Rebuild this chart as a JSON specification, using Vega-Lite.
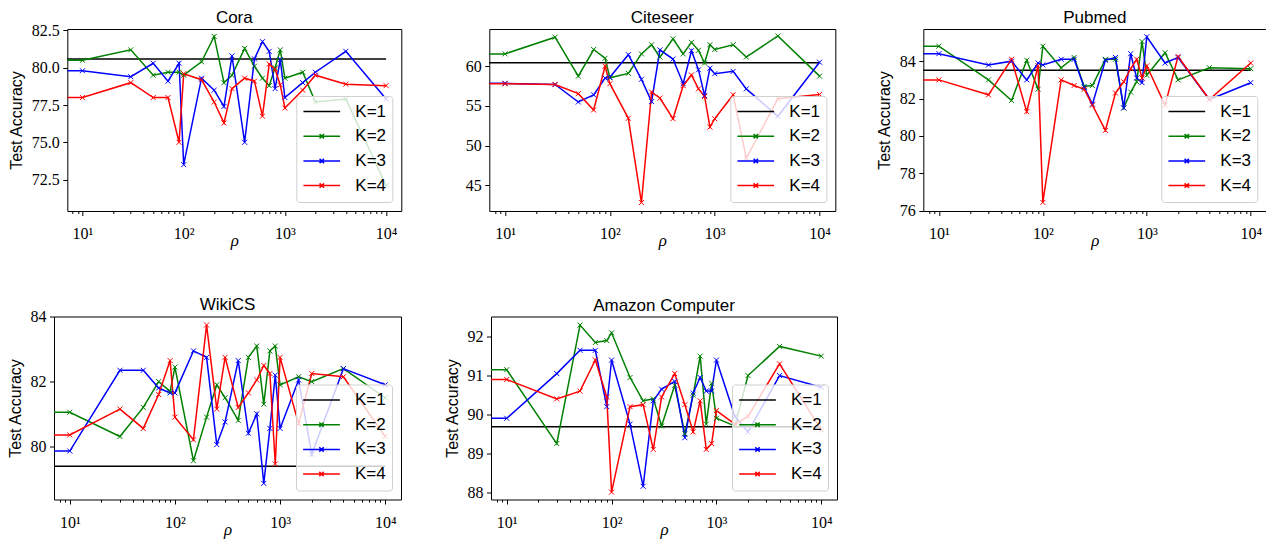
{
 "$schema": "https://vega.github.io/schema/vega-lite/v6.json",
 "background": "white",
 "padding": {"left": 7, "top": 8, "right": 2, "bottom": 2},
 "datasets": {
  "cora": [
   {"r":1,"a":80.58,"K":"K=1"},{"r":10000,"a":80.58,"K":"K=1"},
   {"r":1,"a":80.5,"K":"K=2"},{"r":10,"a":80.5,"K":"K=2"},{"r":30,"a":81.2,"K":"K=2"},{"r":50,"a":79.5,"K":"K=2"},{"r":70,"a":79.7,"K":"K=2"},{"r":90,"a":79.7,"K":"K=2"},{"r":100,"a":79.5,"K":"K=2"},{"r":150,"a":80.4,"K":"K=2"},{"r":200,"a":82.1,"K":"K=2"},{"r":250,"a":79.0,"K":"K=2"},{"r":300,"a":79.5,"K":"K=2"},{"r":400,"a":81.3,"K":"K=2"},{"r":500,"a":80.1,"K":"K=2"},{"r":600,"a":79.3,"K":"K=2"},{"r":700,"a":78.8,"K":"K=2"},{"r":800,"a":80.0,"K":"K=2"},{"r":900,"a":81.2,"K":"K=2"},{"r":1000,"a":79.3,"K":"K=2"},{"r":1500,"a":79.7,"K":"K=2"},{"r":2000,"a":77.7,"K":"K=2"},{"r":4000,"a":77.9,"K":"K=2"},{"r":10000,"a":72.1,"K":"K=2"},
   {"r":1,"a":79.8,"K":"K=3"},{"r":10,"a":79.8,"K":"K=3"},{"r":30,"a":79.4,"K":"K=3"},{"r":50,"a":80.3,"K":"K=3"},{"r":70,"a":79.1,"K":"K=3"},{"r":90,"a":80.3,"K":"K=3"},{"r":100,"a":73.5,"K":"K=3"},{"r":150,"a":79.3,"K":"K=3"},{"r":200,"a":78.5,"K":"K=3"},{"r":250,"a":77.4,"K":"K=3"},{"r":300,"a":80.8,"K":"K=3"},{"r":400,"a":75.0,"K":"K=3"},{"r":500,"a":80.6,"K":"K=3"},{"r":600,"a":81.75,"K":"K=3"},{"r":700,"a":81.1,"K":"K=3"},{"r":800,"a":78.6,"K":"K=3"},{"r":900,"a":80.55,"K":"K=3"},{"r":1000,"a":78.0,"K":"K=3"},{"r":1500,"a":79.0,"K":"K=3"},{"r":2000,"a":79.7,"K":"K=3"},{"r":4000,"a":81.1,"K":"K=3"},{"r":10000,"a":77.9,"K":"K=3"},
   {"r":1,"a":78.0,"K":"K=4"},{"r":10,"a":78.0,"K":"K=4"},{"r":30,"a":79.0,"K":"K=4"},{"r":50,"a":78.0,"K":"K=4"},{"r":70,"a":78.0,"K":"K=4"},{"r":90,"a":75.0,"K":"K=4"},{"r":100,"a":79.6,"K":"K=4"},{"r":150,"a":79.2,"K":"K=4"},{"r":200,"a":77.7,"K":"K=4"},{"r":250,"a":76.3,"K":"K=4"},{"r":300,"a":78.6,"K":"K=4"},{"r":400,"a":79.3,"K":"K=4"},{"r":500,"a":79.1,"K":"K=4"},{"r":600,"a":76.75,"K":"K=4"},{"r":700,"a":80.25,"K":"K=4"},{"r":800,"a":79.9,"K":"K=4"},{"r":900,"a":78.85,"K":"K=4"},{"r":1000,"a":77.3,"K":"K=4"},{"r":1500,"a":78.5,"K":"K=4"},{"r":2000,"a":79.5,"K":"K=4"},{"r":4000,"a":78.9,"K":"K=4"},{"r":10000,"a":78.8,"K":"K=4"}
  ],
  "citeseer": [
   {"r":1,"a":60.42,"K":"K=1"},{"r":10000,"a":60.42,"K":"K=1"},
   {"r":1,"a":61.55,"K":"K=2"},{"r":10,"a":61.55,"K":"K=2"},{"r":30,"a":63.65,"K":"K=2"},{"r":50,"a":58.75,"K":"K=2"},{"r":70,"a":62.1,"K":"K=2"},{"r":90,"a":61.0,"K":"K=2"},{"r":100,"a":58.55,"K":"K=2"},{"r":150,"a":59.1,"K":"K=2"},{"r":200,"a":61.55,"K":"K=2"},{"r":250,"a":62.7,"K":"K=2"},{"r":300,"a":61.15,"K":"K=2"},{"r":400,"a":63.45,"K":"K=2"},{"r":500,"a":61.55,"K":"K=2"},{"r":600,"a":63.0,"K":"K=2"},{"r":700,"a":62.0,"K":"K=2"},{"r":800,"a":60.4,"K":"K=2"},{"r":900,"a":62.7,"K":"K=2"},{"r":1000,"a":62.1,"K":"K=2"},{"r":1500,"a":62.7,"K":"K=2"},{"r":2000,"a":61.15,"K":"K=2"},{"r":4000,"a":63.8,"K":"K=2"},{"r":10000,"a":58.75,"K":"K=2"},
   {"r":1,"a":57.85,"K":"K=3"},{"r":10,"a":57.85,"K":"K=3"},{"r":30,"a":57.7,"K":"K=3"},{"r":50,"a":55.5,"K":"K=3"},{"r":70,"a":56.4,"K":"K=3"},{"r":90,"a":58.5,"K":"K=3"},{"r":100,"a":58.6,"K":"K=3"},{"r":150,"a":61.45,"K":"K=3"},{"r":200,"a":58.35,"K":"K=3"},{"r":250,"a":55.55,"K":"K=3"},{"r":300,"a":62.05,"K":"K=3"},{"r":400,"a":60.9,"K":"K=3"},{"r":500,"a":57.8,"K":"K=3"},{"r":600,"a":61.95,"K":"K=3"},{"r":700,"a":59.55,"K":"K=3"},{"r":800,"a":56.3,"K":"K=3"},{"r":900,"a":59.75,"K":"K=3"},{"r":1000,"a":59.05,"K":"K=3"},{"r":1500,"a":59.35,"K":"K=3"},{"r":2000,"a":57.15,"K":"K=3"},{"r":4000,"a":53.7,"K":"K=3"},{"r":10000,"a":60.5,"K":"K=3"},
   {"r":1,"a":57.8,"K":"K=4"},{"r":10,"a":57.8,"K":"K=4"},{"r":30,"a":57.7,"K":"K=4"},{"r":50,"a":56.55,"K":"K=4"},{"r":70,"a":54.5,"K":"K=4"},{"r":90,"a":60.0,"K":"K=4"},{"r":100,"a":57.8,"K":"K=4"},{"r":150,"a":53.45,"K":"K=4"},{"r":200,"a":42.85,"K":"K=4"},{"r":250,"a":56.75,"K":"K=4"},{"r":300,"a":56.0,"K":"K=4"},{"r":400,"a":53.4,"K":"K=4"},{"r":500,"a":57.55,"K":"K=4"},{"r":600,"a":58.9,"K":"K=4"},{"r":700,"a":57.15,"K":"K=4"},{"r":800,"a":56.2,"K":"K=4"},{"r":900,"a":52.35,"K":"K=4"},{"r":1000,"a":53.4,"K":"K=4"},{"r":1500,"a":56.4,"K":"K=4"},{"r":2000,"a":48.45,"K":"K=4"},{"r":4000,"a":55.9,"K":"K=4"},{"r":10000,"a":56.45,"K":"K=4"}
  ],
  "pubmed": [
   {"r":1,"a":83.52,"K":"K=1"},{"r":10000,"a":83.52,"K":"K=1"},
   {"r":1,"a":84.8,"K":"K=2"},{"r":10,"a":84.8,"K":"K=2"},{"r":30,"a":83.0,"K":"K=2"},{"r":50,"a":81.9,"K":"K=2"},{"r":70,"a":84.05,"K":"K=2"},{"r":90,"a":82.5,"K":"K=2"},{"r":100,"a":84.8,"K":"K=2"},{"r":150,"a":83.65,"K":"K=2"},{"r":200,"a":84.2,"K":"K=2"},{"r":250,"a":82.65,"K":"K=2"},{"r":300,"a":82.7,"K":"K=2"},{"r":400,"a":84.1,"K":"K=2"},{"r":500,"a":84.1,"K":"K=2"},{"r":600,"a":81.5,"K":"K=2"},{"r":700,"a":82.35,"K":"K=2"},{"r":800,"a":82.9,"K":"K=2"},{"r":900,"a":85.05,"K":"K=2"},{"r":1000,"a":83.25,"K":"K=2"},{"r":1500,"a":84.45,"K":"K=2"},{"r":2000,"a":83.0,"K":"K=2"},{"r":4000,"a":83.65,"K":"K=2"},{"r":10000,"a":83.6,"K":"K=2"},
   {"r":1,"a":84.4,"K":"K=3"},{"r":10,"a":84.4,"K":"K=3"},{"r":30,"a":83.8,"K":"K=3"},{"r":50,"a":84.0,"K":"K=3"},{"r":70,"a":83.0,"K":"K=3"},{"r":90,"a":83.9,"K":"K=3"},{"r":100,"a":83.8,"K":"K=3"},{"r":150,"a":84.1,"K":"K=3"},{"r":200,"a":84.1,"K":"K=3"},{"r":250,"a":82.6,"K":"K=3"},{"r":300,"a":81.7,"K":"K=3"},{"r":400,"a":84.05,"K":"K=3"},{"r":500,"a":84.2,"K":"K=3"},{"r":600,"a":81.5,"K":"K=3"},{"r":700,"a":84.4,"K":"K=3"},{"r":800,"a":83.1,"K":"K=3"},{"r":900,"a":82.85,"K":"K=3"},{"r":1000,"a":85.3,"K":"K=3"},{"r":1500,"a":83.9,"K":"K=3"},{"r":2000,"a":84.2,"K":"K=3"},{"r":4000,"a":81.95,"K":"K=3"},{"r":10000,"a":82.85,"K":"K=3"},
   {"r":1,"a":83.0,"K":"K=4"},{"r":10,"a":83.0,"K":"K=4"},{"r":30,"a":82.2,"K":"K=4"},{"r":50,"a":84.1,"K":"K=4"},{"r":70,"a":81.3,"K":"K=4"},{"r":90,"a":83.75,"K":"K=4"},{"r":100,"a":76.45,"K":"K=4"},{"r":150,"a":83.0,"K":"K=4"},{"r":200,"a":82.7,"K":"K=4"},{"r":250,"a":82.5,"K":"K=4"},{"r":300,"a":81.65,"K":"K=4"},{"r":400,"a":80.3,"K":"K=4"},{"r":500,"a":82.3,"K":"K=4"},{"r":600,"a":82.9,"K":"K=4"},{"r":700,"a":83.6,"K":"K=4"},{"r":800,"a":84.1,"K":"K=4"},{"r":900,"a":83.1,"K":"K=4"},{"r":1000,"a":83.75,"K":"K=4"},{"r":1500,"a":81.65,"K":"K=4"},{"r":2000,"a":84.25,"K":"K=4"},{"r":4000,"a":81.95,"K":"K=4"},{"r":10000,"a":83.9,"K":"K=4"}
  ],
  "wikics": [
   {"r":1,"a":79.38,"K":"K=1"},{"r":10000,"a":79.38,"K":"K=1"},
   {"r":1,"a":81.05,"K":"K=2"},{"r":10,"a":81.05,"K":"K=2"},{"r":30,"a":80.3,"K":"K=2"},{"r":50,"a":81.2,"K":"K=2"},{"r":70,"a":82.0,"K":"K=2"},{"r":90,"a":81.7,"K":"K=2"},{"r":100,"a":82.45,"K":"K=2"},{"r":150,"a":79.55,"K":"K=2"},{"r":200,"a":80.9,"K":"K=2"},{"r":250,"a":81.9,"K":"K=2"},{"r":300,"a":81.5,"K":"K=2"},{"r":400,"a":80.8,"K":"K=2"},{"r":500,"a":82.75,"K":"K=2"},{"r":600,"a":83.1,"K":"K=2"},{"r":700,"a":81.3,"K":"K=2"},{"r":800,"a":82.95,"K":"K=2"},{"r":900,"a":83.1,"K":"K=2"},{"r":1000,"a":81.9,"K":"K=2"},{"r":1500,"a":82.15,"K":"K=2"},{"r":2000,"a":82.0,"K":"K=2"},{"r":4000,"a":82.4,"K":"K=2"},{"r":10000,"a":81.5,"K":"K=2"},
   {"r":1,"a":79.85,"K":"K=3"},{"r":10,"a":79.85,"K":"K=3"},{"r":30,"a":82.35,"K":"K=3"},{"r":50,"a":82.35,"K":"K=3"},{"r":70,"a":81.8,"K":"K=3"},{"r":90,"a":81.65,"K":"K=3"},{"r":100,"a":81.65,"K":"K=3"},{"r":150,"a":82.95,"K":"K=3"},{"r":200,"a":82.75,"K":"K=3"},{"r":250,"a":80.05,"K":"K=3"},{"r":300,"a":80.75,"K":"K=3"},{"r":400,"a":82.65,"K":"K=3"},{"r":500,"a":80.4,"K":"K=3"},{"r":600,"a":81.0,"K":"K=3"},{"r":700,"a":78.85,"K":"K=3"},{"r":800,"a":80.55,"K":"K=3"},{"r":900,"a":82.2,"K":"K=3"},{"r":1000,"a":80.55,"K":"K=3"},{"r":1500,"a":82.05,"K":"K=3"},{"r":2000,"a":79.75,"K":"K=3"},{"r":4000,"a":82.4,"K":"K=3"},{"r":10000,"a":81.9,"K":"K=3"},
   {"r":1,"a":80.35,"K":"K=4"},{"r":10,"a":80.35,"K":"K=4"},{"r":30,"a":81.15,"K":"K=4"},{"r":50,"a":80.55,"K":"K=4"},{"r":70,"a":81.6,"K":"K=4"},{"r":90,"a":82.65,"K":"K=4"},{"r":100,"a":80.9,"K":"K=4"},{"r":150,"a":80.2,"K":"K=4"},{"r":200,"a":83.75,"K":"K=4"},{"r":250,"a":81.15,"K":"K=4"},{"r":300,"a":82.75,"K":"K=4"},{"r":400,"a":81.2,"K":"K=4"},{"r":500,"a":81.65,"K":"K=4"},{"r":600,"a":82.05,"K":"K=4"},{"r":700,"a":82.5,"K":"K=4"},{"r":800,"a":82.25,"K":"K=4"},{"r":900,"a":79.45,"K":"K=4"},{"r":1000,"a":82.75,"K":"K=4"},{"r":1500,"a":80.7,"K":"K=4"},{"r":2000,"a":82.25,"K":"K=4"},{"r":4000,"a":82.15,"K":"K=4"},{"r":10000,"a":80.3,"K":"K=4"}
  ],
  "amazon": [
   {"r":1,"a":89.68,"K":"K=1"},{"r":10000,"a":89.68,"K":"K=1"},
   {"r":1,"a":91.15,"K":"K=2"},{"r":10,"a":91.15,"K":"K=2"},{"r":30,"a":89.25,"K":"K=2"},{"r":50,"a":92.3,"K":"K=2"},{"r":70,"a":91.85,"K":"K=2"},{"r":90,"a":91.9,"K":"K=2"},{"r":100,"a":92.1,"K":"K=2"},{"r":150,"a":90.95,"K":"K=2"},{"r":200,"a":90.35,"K":"K=2"},{"r":250,"a":90.4,"K":"K=2"},{"r":300,"a":89.7,"K":"K=2"},{"r":400,"a":90.75,"K":"K=2"},{"r":500,"a":89.5,"K":"K=2"},{"r":600,"a":90.5,"K":"K=2"},{"r":700,"a":91.5,"K":"K=2"},{"r":800,"a":89.75,"K":"K=2"},{"r":900,"a":90.8,"K":"K=2"},{"r":1000,"a":89.9,"K":"K=2"},{"r":1500,"a":89.7,"K":"K=2"},{"r":2000,"a":91.0,"K":"K=2"},{"r":4000,"a":91.75,"K":"K=2"},{"r":10000,"a":91.5,"K":"K=2"},
   {"r":1,"a":89.9,"K":"K=3"},{"r":10,"a":89.9,"K":"K=3"},{"r":30,"a":91.05,"K":"K=3"},{"r":50,"a":91.65,"K":"K=3"},{"r":70,"a":91.65,"K":"K=3"},{"r":90,"a":90.2,"K":"K=3"},{"r":100,"a":91.4,"K":"K=3"},{"r":150,"a":89.75,"K":"K=3"},{"r":200,"a":88.15,"K":"K=3"},{"r":250,"a":90.35,"K":"K=3"},{"r":300,"a":90.65,"K":"K=3"},{"r":400,"a":90.85,"K":"K=3"},{"r":500,"a":89.4,"K":"K=3"},{"r":600,"a":90.55,"K":"K=3"},{"r":700,"a":90.95,"K":"K=3"},{"r":800,"a":90.6,"K":"K=3"},{"r":900,"a":90.6,"K":"K=3"},{"r":1000,"a":91.4,"K":"K=3"},{"r":1500,"a":89.95,"K":"K=3"},{"r":2000,"a":89.55,"K":"K=3"},{"r":4000,"a":91.0,"K":"K=3"},{"r":10000,"a":90.7,"K":"K=3"},
   {"r":1,"a":90.9,"K":"K=4"},{"r":10,"a":90.9,"K":"K=4"},{"r":30,"a":90.4,"K":"K=4"},{"r":50,"a":90.6,"K":"K=4"},{"r":70,"a":91.4,"K":"K=4"},{"r":90,"a":90.45,"K":"K=4"},{"r":100,"a":88.0,"K":"K=4"},{"r":150,"a":90.2,"K":"K=4"},{"r":200,"a":90.25,"K":"K=4"},{"r":250,"a":89.1,"K":"K=4"},{"r":300,"a":90.45,"K":"K=4"},{"r":400,"a":91.05,"K":"K=4"},{"r":500,"a":90.25,"K":"K=4"},{"r":600,"a":89.55,"K":"K=4"},{"r":700,"a":90.35,"K":"K=4"},{"r":800,"a":89.1,"K":"K=4"},{"r":900,"a":89.25,"K":"K=4"},{"r":1000,"a":90.1,"K":"K=4"},{"r":1500,"a":89.75,"K":"K=4"},{"r":2000,"a":89.95,"K":"K=4"},{"r":4000,"a":91.3,"K":"K=4"},{"r":10000,"a":89.6,"K":"K=4"}
  ]
 },
 "config": {
  "view": {"stroke": "black", "strokeWidth": 1},
  "font": "Liberation Sans",
  "title": {"font": "Liberation Sans", "fontSize": 17, "fontWeight": "normal", "color": "black", "frame": "group", "baseline": "alphabetic", "offset": 2},
  "axis": {"domain": false, "grid": false, "tickColor": "black", "tickWidth": 1, "labelFont": "Liberation Serif", "labelFontSize": 16, "labelColor": "black", "titleFontWeight": "normal", "titleColor": "black"},
  "axisX": {"titleFont": "Liberation Serif", "titleFontStyle": "italic", "titleFontSize": 17, "labelPadding": 10, "titlePadding": 4, "titleBaseline": "alphabetic"},
  "axisY": {"titleFont": "Liberation Sans", "titleFontSize": 16, "tickSize": 4.5, "labelPadding": 3.5, "titlePadding": 6.5},
  "legend": {"orient": "bottom-right", "offset": 9, "title": null, "padding": 6, "strokeColor": "#d0d0d0", "strokeWidth": 1, "fillColor": "rgba(255,255,255,0.8)", "cornerRadius": 3, "symbolSize": 1347, "symbolStrokeWidth": 1.5, "symbolFillColor": "transparent", "clipHeight": 19, "rowPadding": 5.7, "labelOffset": 14, "labelFont": "Liberation Sans", "labelFontSize": 17, "labelColor": "black", "symbolOffset": 0}
 },
 "columns": 1,
 "align": "none",
 "spacing": 46.5,
 "resolve": {"scale": {"color": "independent", "shape": "independent"}, "legend": {"color": "independent", "shape": "independent"}},
 "concat": [
  {
   "hconcat": [
    {"width": 1, "height": 1, "view": {"stroke": null}, "data": {"values": [{"a": 0}]}, "mark": {"type": "point", "opacity": 0}},
    {
     "hconcat": [
      {
       "title": {"text": "Cora", "offset": -4.5}, "width": 334, "height": 182, "data": {"name": "cora"},
       "encoding": {
        "x": {"field": "r", "type": "quantitative", "title": "ρ", "scale": {"type": "log", "domain": [7.08, 14125], "nice": false},
              "axis": {"values": [8,9,10,20,30,40,50,60,70,80,90,100,200,300,400,500,600,700,800,900,1000,2000,3000,4000,5000,6000,7000,8000,9000,10000], "labelExpr": "datum.value == 10 ? '10¹' : datum.value == 100 ? '10²' : datum.value == 1000 ? '10³' : datum.value == 10000 ? '10⁴' : ''", "labelOverlap": false, "tickSize": {"condition": {"test": "datum.value == 10 || datum.value == 100 || datum.value == 1000 || datum.value == 10000", "value": 4.5}, "value": 2.5}}},
        "y": {"field": "a", "type": "quantitative", "title": "Test Accuracy", "scale": {"domain": [70.39, 82.6], "nice": false, "zero": false}, "axis": {"values": [72.5, 75, 77.5, 80, 82.5], "format": ".1f"}},
        "color": {"field": "K", "type": "nominal", "scale": {"domain": ["K=1","K=2","K=3","K=4"], "range": ["black","#008000","#0000ff","#ff0000"]}, "legend": {"zindex": 1}}
       },
       "layer": [
        {"transform": [{"filter": "false"}], "mark": {"type": "point", "filled": false, "opacity": 1}, "encoding": {"shape": {"field": "K", "type": "nominal", "scale": {"domain": ["K=1","K=2","K=3","K=4"], "range": ["M-1,0L1,0", "M-1,0L1,0M-0.12,-0.12L0.12,0.12M-0.12,0.12L0.12,-0.12", "M-1,0L1,0M-0.12,-0.12L0.12,0.12M-0.12,0.12L0.12,-0.12", "M-1,0L1,0M-0.12,-0.12L0.12,0.12M-0.12,0.12L0.12,-0.12"]}, "legend": {"zindex": 1}}}},
        {"mark": {"type": "line", "strokeWidth": 1.5, "clip": true}},
        {"transform": [{"filter": "datum.K != 'K=1'"}], "mark": {"type": "point", "filled": false, "opacity": 1, "strokeWidth": 1, "size": 25, "shape": "M-1,-1L1,1M-1,1L1,-1", "clip": true}}
       ]
      },
      {
       "title": {"text": "Citeseer"}, "width": 346, "height": 182, "data": {"name": "citeseer"},
       "encoding": {
        "x": {"field": "r", "type": "quantitative", "title": "ρ", "scale": {"type": "log", "domain": [7.08, 14125], "nice": false},
              "axis": {"values": [8,9,10,20,30,40,50,60,70,80,90,100,200,300,400,500,600,700,800,900,1000,2000,3000,4000,5000,6000,7000,8000,9000,10000], "labelExpr": "datum.value == 10 ? '10¹' : datum.value == 100 ? '10²' : datum.value == 1000 ? '10³' : datum.value == 10000 ? '10⁴' : ''", "labelOverlap": false, "tickSize": {"condition": {"test": "datum.value == 10 || datum.value == 100 || datum.value == 1000 || datum.value == 10000", "value": 4.5}, "value": 2.5}}},
        "y": {"field": "a", "type": "quantitative", "title": null, "scale": {"domain": [41.79, 64.68], "nice": false, "zero": false}, "axis": {"values": [45, 50, 55, 60]}},
        "color": {"field": "K", "type": "nominal", "scale": {"domain": ["K=1","K=2","K=3","K=4"], "range": ["black","#008000","#0000ff","#ff0000"]}, "legend": {"zindex": 1}}
       },
       "layer": [
        {"transform": [{"filter": "false"}], "mark": {"type": "point", "filled": false, "opacity": 1}, "encoding": {"shape": {"field": "K", "type": "nominal", "scale": {"domain": ["K=1","K=2","K=3","K=4"], "range": ["M-1,0L1,0", "M-1,0L1,0M-0.12,-0.12L0.12,0.12M-0.12,0.12L0.12,-0.12", "M-1,0L1,0M-0.12,-0.12L0.12,0.12M-0.12,0.12L0.12,-0.12", "M-1,0L1,0M-0.12,-0.12L0.12,0.12M-0.12,0.12L0.12,-0.12"]}, "legend": {"zindex": 1}}}},
        {"mark": {"type": "line", "strokeWidth": 1.5, "clip": true}},
        {"transform": [{"filter": "datum.K != 'K=1'"}], "mark": {"type": "point", "filled": false, "opacity": 1, "strokeWidth": 1, "size": 25, "shape": "M-1,-1L1,1M-1,1L1,-1", "clip": true}}
       ]
      },
      {
       "title": {"text": "Pubmed"}, "width": 343, "height": 182, "data": {"name": "pubmed"},
       "encoding": {
        "x": {"field": "r", "type": "quantitative", "title": "ρ", "scale": {"type": "log", "domain": [7.08, 14125], "nice": false},
              "axis": {"values": [8,9,10,20,30,40,50,60,70,80,90,100,200,300,400,500,600,700,800,900,1000,2000,3000,4000,5000,6000,7000,8000,9000,10000], "labelExpr": "datum.value == 10 ? '10¹' : datum.value == 100 ? '10²' : datum.value == 1000 ? '10³' : datum.value == 10000 ? '10⁴' : ''", "labelOverlap": false, "tickSize": {"condition": {"test": "datum.value == 10 || datum.value == 100 || datum.value == 1000 || datum.value == 10000", "value": 4.5}, "value": 2.5}}},
        "y": {"field": "a", "type": "quantitative", "title": "Test Accuracy", "scale": {"domain": [75.99, 85.72], "nice": false, "zero": false}, "axis": {"values": [76, 78, 80, 82, 84]}},
        "color": {"field": "K", "type": "nominal", "scale": {"domain": ["K=1","K=2","K=3","K=4"], "range": ["black","#008000","#0000ff","#ff0000"]}, "legend": {"zindex": 1}}
       },
       "layer": [
        {"transform": [{"filter": "false"}], "mark": {"type": "point", "filled": false, "opacity": 1}, "encoding": {"shape": {"field": "K", "type": "nominal", "scale": {"domain": ["K=1","K=2","K=3","K=4"], "range": ["M-1,0L1,0", "M-1,0L1,0M-0.12,-0.12L0.12,0.12M-0.12,0.12L0.12,-0.12", "M-1,0L1,0M-0.12,-0.12L0.12,0.12M-0.12,0.12L0.12,-0.12", "M-1,0L1,0M-0.12,-0.12L0.12,0.12M-0.12,0.12L0.12,-0.12"]}, "legend": {"zindex": 1}}}},
        {"mark": {"type": "line", "strokeWidth": 1.5, "clip": true}},
        {"transform": [{"filter": "datum.K != 'K=1'"}], "mark": {"type": "point", "filled": false, "opacity": 1, "strokeWidth": 1, "size": 25, "shape": "M-1,-1L1,1M-1,1L1,-1", "clip": true}}
       ]
      }
     ],
     "spacing": 88, "bounds": "flush",
     "resolve": {"scale": {"color": "independent", "shape": "independent"}, "legend": {"color": "independent", "shape": "independent"}}
    }
   ],
   "spacing": 12.3, "bounds": "flush",
   "resolve": {"scale": {"color": "independent", "shape": "independent"}, "legend": {"color": "independent", "shape": "independent"}}
  },
  {
   "hconcat": [
    {
     "title": {"text": "WikiCS", "offset": -5.5}, "width": 347, "height": 183, "data": {"name": "wikics"},
     "encoding": {
      "x": {"field": "r", "type": "quantitative", "title": "ρ", "scale": {"type": "log", "domain": [7.08, 14125], "nice": false},
            "axis": {"values": [8,9,10,20,30,40,50,60,70,80,90,100,200,300,400,500,600,700,800,900,1000,2000,3000,4000,5000,6000,7000,8000,9000,10000], "labelExpr": "datum.value == 10 ? '10¹' : datum.value == 100 ? '10²' : datum.value == 1000 ? '10³' : datum.value == 10000 ? '10⁴' : ''", "labelOverlap": false, "tickSize": {"condition": {"test": "datum.value == 10 || datum.value == 100 || datum.value == 1000 || datum.value == 10000", "value": 4.5}, "value": 2.5}}},
      "y": {"field": "a", "type": "quantitative", "title": "Test Accuracy", "scale": {"domain": [78.35, 84.015], "nice": false, "zero": false}, "axis": {"values": [80, 82, 84]}},
      "color": {"field": "K", "type": "nominal", "scale": {"domain": ["K=1","K=2","K=3","K=4"], "range": ["black","#008000","#0000ff","#ff0000"]}, "legend": {"zindex": 1}}
     },
     "layer": [
      {"transform": [{"filter": "false"}], "mark": {"type": "point", "filled": false, "opacity": 1}, "encoding": {"shape": {"field": "K", "type": "nominal", "scale": {"domain": ["K=1","K=2","K=3","K=4"], "range": ["M-1,0L1,0", "M-1,0L1,0M-0.12,-0.12L0.12,0.12M-0.12,0.12L0.12,-0.12", "M-1,0L1,0M-0.12,-0.12L0.12,0.12M-0.12,0.12L0.12,-0.12", "M-1,0L1,0M-0.12,-0.12L0.12,0.12M-0.12,0.12L0.12,-0.12"]}, "legend": {"zindex": 1}}}},
      {"mark": {"type": "line", "strokeWidth": 1.5, "clip": true}},
      {"transform": [{"filter": "datum.K != 'K=1'"}], "mark": {"type": "point", "filled": false, "opacity": 1, "strokeWidth": 1, "size": 25, "shape": "M-1,-1L1,1M-1,1L1,-1", "clip": true}}
     ]
    },
    {
     "title": {"text": "Amazon Computer"}, "width": 346, "height": 183, "data": {"name": "amazon"},
     "encoding": {
      "x": {"field": "r", "type": "quantitative", "title": "ρ", "scale": {"type": "log", "domain": [7.08, 14125], "nice": false},
            "axis": {"values": [8,9,10,20,30,40,50,60,70,80,90,100,200,300,400,500,600,700,800,900,1000,2000,3000,4000,5000,6000,7000,8000,9000,10000], "labelExpr": "datum.value == 10 ? '10¹' : datum.value == 100 ? '10²' : datum.value == 1000 ? '10³' : datum.value == 10000 ? '10⁴' : ''", "labelOverlap": false, "tickSize": {"condition": {"test": "datum.value == 10 || datum.value == 100 || datum.value == 1000 || datum.value == 10000", "value": 4.5}, "value": 2.5}}},
      "y": {"field": "a", "type": "quantitative", "title": "Test Accuracy", "scale": {"domain": [87.81, 92.52], "nice": false, "zero": false}, "axis": {"values": [88, 89, 90, 91, 92]}},
      "color": {"field": "K", "type": "nominal", "scale": {"domain": ["K=1","K=2","K=3","K=4"], "range": ["black","#008000","#0000ff","#ff0000"]}, "legend": {"zindex": 1}}
     },
     "layer": [
      {"transform": [{"filter": "false"}], "mark": {"type": "point", "filled": false, "opacity": 1}, "encoding": {"shape": {"field": "K", "type": "nominal", "scale": {"domain": ["K=1","K=2","K=3","K=4"], "range": ["M-1,0L1,0", "M-1,0L1,0M-0.12,-0.12L0.12,0.12M-0.12,0.12L0.12,-0.12", "M-1,0L1,0M-0.12,-0.12L0.12,0.12M-0.12,0.12L0.12,-0.12", "M-1,0L1,0M-0.12,-0.12L0.12,0.12M-0.12,0.12L0.12,-0.12"]}, "legend": {"zindex": 1}}}},
      {"mark": {"type": "line", "strokeWidth": 1.5, "clip": true}},
      {"transform": [{"filter": "datum.K != 'K=1'"}], "mark": {"type": "point", "filled": false, "opacity": 1, "strokeWidth": 1, "size": 25, "shape": "M-1,-1L1,1M-1,1L1,-1", "clip": true}}
     ]
    }
   ],
   "spacing": 90, "bounds": "flush",
   "resolve": {"scale": {"color": "independent", "shape": "independent"}, "legend": {"color": "independent", "shape": "independent"}}
  }
 ]
}
